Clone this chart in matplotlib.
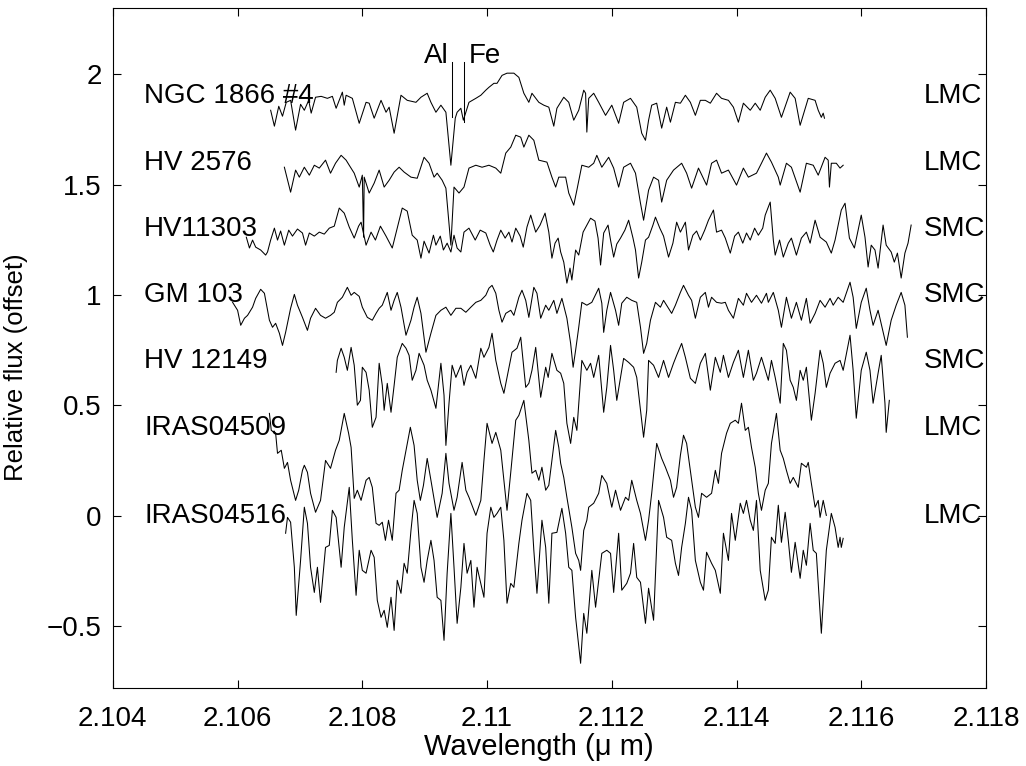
import matplotlib
matplotlib.use("Agg")
import matplotlib.pyplot as plt

plt.rcParams['font.family'] = ['Liberation Sans', 'DejaVu Sans']
plt.rcParams['font.size'] = 20

# star names, host galaxy and the flux level at which the labels sit
star_names = ["NGC 1866 #4", "HV 2576", "HV11303", "GM 103", "HV 12149", "IRAS04509", "IRAS04516"]
galaxies = ["LMC", "LMC", "SMC", "SMC", "SMC", "LMC", "LMC"]
label_flux = [1.9, 1.6, 1.3, 1.0, 0.7, 0.4, 0.0]

# line identifications (wavelength in micron)
line_names = ["Al", "Fe"]
line_wl = [2.10944, 2.10963]
line_bottom = [1.805, 1.783]

# spectra (wavelength in micron, offset relative flux)
ngc1866_wl = [2.10653, 2.10659, 2.10666, 2.10672, 2.10678, 2.10685, 2.10693, 2.10701, 2.10707, 2.10714,
              2.10718, 2.10725, 2.10734, 2.10744, 2.10752, 2.10758, 2.10768, 2.10771, 2.10774, 2.10784,
              2.10795, 2.10806, 2.10811, 2.10819, 2.10830, 2.10838, 2.10843, 2.10851, 2.10862, 2.10872,
              2.10886, 2.10894, 2.10904, 2.10910, 2.10918, 2.10926, 2.10934, 2.10942, 2.10949, 2.10952,
              2.10958, 2.10962, 2.10966, 2.10971, 2.10982, 2.10990, 2.10998, 2.11003, 2.11011, 2.11016,
              2.11024, 2.11032, 2.11043, 2.11051, 2.11059, 2.11067, 2.11072, 2.11083, 2.11091, 2.11099,
              2.11107, 2.11112, 2.11123, 2.11131, 2.11139, 2.11147, 2.11155, 2.11158, 2.11160, 2.11163,
              2.11171, 2.11179, 2.11190, 2.11200, 2.11211, 2.11219, 2.11230, 2.11240, 2.11248, 2.11254,
              2.11259, 2.11264, 2.11272, 2.11280, 2.11288, 2.11294, 2.11302, 2.11310, 2.11318, 2.11326,
              2.11334, 2.11342, 2.11350, 2.11358, 2.11368, 2.11376, 2.11387, 2.11395, 2.11403, 2.11411,
              2.11422, 2.11430, 2.11438, 2.11446, 2.11454, 2.11462, 2.11472, 2.11486, 2.11494, 2.11502,
              2.11515, 2.11526, 2.11531, 2.11536, 2.11539, 2.11541]
ngc1866_flux = [1.837, 1.765, 1.855, 1.810, 1.873, 1.882, 1.747, 1.864, 1.837, 1.882,
                1.824, 1.896, 1.900, 1.891, 1.900, 1.846, 1.919, 1.860, 1.905, 1.891,
                1.778, 1.873, 1.869, 1.801, 1.882, 1.828, 1.851, 1.733, 1.905, 1.882,
                1.873, 1.896, 1.914, 1.873, 1.828, 1.860, 1.828, 1.588, 1.801, 1.828,
                1.846, 1.792, 1.828, 1.873, 1.891, 1.905, 1.928, 1.941, 1.959, 1.959,
                1.995, 2.005, 2.005, 1.986, 1.914, 1.873, 1.914, 1.873, 1.860, 1.851,
                1.765, 1.846, 1.896, 1.873, 1.792, 1.837, 1.928, 1.914, 1.738, 1.891,
                1.914, 1.873, 1.814, 1.860, 1.778, 1.873, 1.891, 1.851, 1.733, 1.701,
                1.792, 1.860, 1.869, 1.756, 1.851, 1.783, 1.873, 1.869, 1.905, 1.873,
                1.814, 1.882, 1.882, 1.869, 1.914, 1.891, 1.882, 1.851, 1.783, 1.869,
                1.837, 1.869, 1.837, 1.896, 1.928, 1.891, 1.805, 1.919, 1.891, 1.769,
                1.891, 1.882, 1.837, 1.805, 1.824, 1.801]

hv2576_wl = [2.10675, 2.10685, 2.10693, 2.10699, 2.10707, 2.10715, 2.10723, 2.10731, 2.10741, 2.10749,
             2.10757, 2.10766, 2.10774, 2.10779, 2.10787, 2.10795, 2.10800, 2.10802, 2.10803, 2.10811,
             2.10819, 2.10827, 2.10835, 2.10843, 2.10851, 2.10859, 2.10867, 2.10878, 2.10888, 2.10899,
             2.10907, 2.10915, 2.10920, 2.10928, 2.10934, 2.10942, 2.10947, 2.10955, 2.10963, 2.10971,
             2.10982, 2.10992, 2.11003, 2.11014, 2.11022, 2.11030, 2.11038, 2.11046, 2.11054, 2.11059,
             2.11067, 2.11075, 2.11083, 2.11096, 2.11104, 2.11110, 2.11115, 2.11126, 2.11131, 2.11139,
             2.11144, 2.11152, 2.11163, 2.11171, 2.11176, 2.11184, 2.11195, 2.11203, 2.11211, 2.11219,
             2.11230, 2.11238, 2.11246, 2.11251, 2.11259, 2.11267, 2.11275, 2.11280, 2.11288, 2.11299,
             2.11312, 2.11320, 2.11328, 2.11339, 2.11352, 2.11360, 2.11368, 2.11376, 2.11387, 2.11400,
             2.11411, 2.11419, 2.11432, 2.11440, 2.11448, 2.11456, 2.11467, 2.11470, 2.11480, 2.11488,
             2.11502, 2.11512, 2.11523, 2.11531, 2.11542, 2.11547, 2.11549, 2.11552, 2.11560, 2.11566,
             2.11571]
hv2576_flux = [1.579, 1.466, 1.566, 1.534, 1.579, 1.543, 1.588, 1.575, 1.611, 1.552,
               1.597, 1.633, 1.611, 1.588, 1.552, 1.489, 1.543, 1.262, 1.534, 1.462,
               1.507, 1.566, 1.489, 1.520, 1.557, 1.579, 1.557, 1.534, 1.529, 1.624,
               1.597, 1.534, 1.552, 1.520, 1.484, 1.226, 1.489, 1.462, 1.489, 1.575,
               1.588, 1.579, 1.588, 1.575, 1.552, 1.643, 1.670, 1.724, 1.715, 1.670,
               1.724, 1.701, 1.611, 1.602, 1.534, 1.489, 1.534, 1.534, 1.462, 1.407,
               1.475, 1.588, 1.579, 1.597, 1.633, 1.579, 1.624, 1.575, 1.489, 1.579,
               1.597, 1.552, 1.416, 1.339, 1.475, 1.534, 1.520, 1.421, 1.520, 1.566,
               1.597, 1.552, 1.484, 1.575, 1.498, 1.597, 1.611, 1.552, 1.566, 1.498,
               1.575, 1.534, 1.552, 1.597, 1.643, 1.602, 1.534, 1.498, 1.597, 1.579,
               1.466, 1.597, 1.588, 1.543, 1.624, 1.611, 1.489, 1.597, 1.597, 1.575,
               1.588]

hv11303_wl = [2.10614, 2.10619, 2.10624, 2.10629, 2.10637, 2.10645, 2.10648, 2.10653, 2.10659, 2.10664,
              2.10669, 2.10675, 2.10682, 2.10688, 2.10696, 2.10704, 2.10709, 2.10715, 2.10723, 2.10731,
              2.10739, 2.10747, 2.10755, 2.10763, 2.10771, 2.10779, 2.10787, 2.10794, 2.10798, 2.10806,
              2.10814, 2.10821, 2.10829, 2.10838, 2.10848, 2.10856, 2.10864, 2.10872, 2.10880, 2.10888,
              2.10894, 2.10899, 2.10907, 2.10914, 2.10918, 2.10925, 2.10930, 2.10936, 2.10942, 2.10947,
              2.10952, 2.10958, 2.10963, 2.10971, 2.10981, 2.10989, 2.10998, 2.11005, 2.11010, 2.11016,
              2.11022, 2.11029, 2.11035, 2.11040, 2.11046, 2.11053, 2.11058, 2.11064, 2.11070, 2.11078,
              2.11085, 2.11093, 2.11099, 2.11104, 2.11109, 2.11114, 2.11118, 2.11123, 2.11128, 2.11133,
              2.11136, 2.11142, 2.11147, 2.11154, 2.11160, 2.11166, 2.11173, 2.11178, 2.11182, 2.11187,
              2.11194, 2.11198, 2.11203, 2.11208, 2.11214, 2.11221, 2.11227, 2.11234, 2.11238, 2.11243,
              2.11248, 2.11254, 2.11259, 2.11266, 2.11270, 2.11277, 2.11283, 2.11291, 2.11298, 2.11304,
              2.11310, 2.11318, 2.11323, 2.11330, 2.11336, 2.11342, 2.11349, 2.11355, 2.11363, 2.11368,
              2.11376, 2.11382, 2.11390, 2.11397, 2.11403, 2.11410, 2.11416, 2.11422, 2.11429, 2.11435,
              2.11442, 2.11446, 2.11454, 2.11459, 2.11462, 2.11469, 2.11475, 2.11483, 2.11488, 2.11496,
              2.11504, 2.11512, 2.11518, 2.11526, 2.11534, 2.11544, 2.11552, 2.11558, 2.11568, 2.11574,
              2.11581, 2.11589, 2.11595, 2.11600, 2.11606, 2.11611, 2.11616, 2.11622, 2.11627, 2.11635,
              2.11640, 2.11648, 2.11653, 2.11658, 2.11664, 2.11670, 2.11675, 2.11680]
hv11303_flux = [1.262, 1.213, 1.249, 1.217, 1.204, 1.181, 1.195, 1.249, 1.303, 1.249,
                1.290, 1.226, 1.294, 1.267, 1.299, 1.281, 1.226, 1.281, 1.267, 1.285,
                1.276, 1.303, 1.312, 1.394, 1.371, 1.308, 1.258, 1.312, 1.330, 1.226,
                1.285, 1.249, 1.312, 1.267, 1.213, 1.303, 1.394, 1.380, 1.271, 1.249,
                1.167, 1.244, 1.190, 1.271, 1.226, 1.267, 1.204, 1.235, 1.195, 1.271,
                1.213, 1.195, 1.285, 1.303, 1.249, 1.294, 1.281, 1.226, 1.195, 1.249,
                1.294, 1.258, 1.285, 1.240, 1.303, 1.267, 1.217, 1.308, 1.362, 1.285,
                1.317, 1.371, 1.285, 1.167, 1.235, 1.258, 1.195, 1.149, 1.054, 1.122,
                1.068, 1.204, 1.181, 1.285, 1.317, 1.348, 1.335, 1.258, 1.136, 1.281,
                1.317, 1.249, 1.172, 1.231, 1.258, 1.294, 1.339, 1.258, 1.204, 1.077,
                1.149, 1.249, 1.262, 1.317, 1.353, 1.303, 1.267, 1.172, 1.235, 1.330,
                1.285, 1.330, 1.204, 1.271, 1.290, 1.249, 1.294, 1.339, 1.385, 1.285,
                1.294, 1.258, 1.190, 1.267, 1.285, 1.235, 1.281, 1.249, 1.303, 1.271,
                1.303, 1.362, 1.421, 1.249, 1.181, 1.249, 1.172, 1.235, 1.258, 1.181,
                1.258, 1.285, 1.235, 1.339, 1.262, 1.240, 1.190, 1.249, 1.385, 1.416,
                1.258, 1.213, 1.294, 1.362, 1.262, 1.127, 1.226, 1.204, 1.122, 1.317,
                1.226, 1.195, 1.149, 1.190, 1.077, 1.190, 1.235, 1.317]

gm103_wl = [2.10592, 2.10600, 2.10605, 2.10611, 2.10616, 2.10624, 2.10629, 2.10637, 2.10643, 2.10651,
            2.10656, 2.10661, 2.10667, 2.10672, 2.10677, 2.10685, 2.10691, 2.10696, 2.10704, 2.10712,
            2.10717, 2.10725, 2.10733, 2.10741, 2.10749, 2.10755, 2.10760, 2.10768, 2.10776, 2.10782,
            2.10787, 2.10795, 2.10800, 2.10808, 2.10816, 2.10822, 2.10827, 2.10832, 2.10840, 2.10846,
            2.10851, 2.10856, 2.10862, 2.10870, 2.10878, 2.10883, 2.10888, 2.10894, 2.10902, 2.10910,
            2.10918, 2.10926, 2.10934, 2.10942, 2.10950, 2.10958, 2.10966, 2.10974, 2.10982, 2.10990,
            2.10998, 2.11003, 2.11008, 2.11014, 2.11019, 2.11024, 2.11030, 2.11038, 2.11043, 2.11051,
            2.11056, 2.11062, 2.11067, 2.11075, 2.11080, 2.11086, 2.11094, 2.11099, 2.11107, 2.11112,
            2.11120, 2.11128, 2.11134, 2.11138, 2.11142, 2.11147, 2.11152, 2.11160, 2.11168, 2.11179,
            2.11184, 2.11187, 2.11192, 2.11198, 2.11206, 2.11211, 2.11216, 2.11224, 2.11232, 2.11240,
            2.11246, 2.11251, 2.11256, 2.11262, 2.11270, 2.11278, 2.11283, 2.11291, 2.11296, 2.11302,
            2.11310, 2.11315, 2.11323, 2.11328, 2.11334, 2.11342, 2.11350, 2.11355, 2.11360, 2.11368,
            2.11376, 2.11382, 2.11387, 2.11395, 2.11403, 2.11411, 2.11416, 2.11424, 2.11432, 2.11440,
            2.11448, 2.11451, 2.11459, 2.11467, 2.11472, 2.11480, 2.11488, 2.11496, 2.11504, 2.11512,
            2.11518, 2.11526, 2.11534, 2.11542, 2.11550, 2.11555, 2.11563, 2.11571, 2.11582, 2.11587,
            2.11592, 2.11600, 2.11608, 2.11614, 2.11619, 2.11627, 2.11640, 2.11648, 2.11656, 2.11664,
            2.11670, 2.11674]
gm103_flux = [0.967, 0.931, 0.863, 0.895, 0.908, 0.945, 0.985, 1.026, 1.008, 0.886,
              0.854, 0.872, 0.827, 0.772, 0.831, 0.940, 1.003, 0.954, 0.899, 0.840,
              0.895, 0.940, 0.908, 0.895, 0.908, 0.922, 0.967, 0.990, 1.035, 0.999,
              1.012, 0.994, 0.945, 0.899, 0.886, 0.917, 0.940, 0.954, 1.012, 0.931,
              0.976, 1.012, 0.945, 0.818, 0.886, 0.945, 0.990, 0.917, 0.741, 0.827,
              0.908, 0.931, 0.945, 0.908, 0.940, 0.940, 0.922, 0.945, 0.967, 0.976,
              0.999, 1.031, 1.044, 1.008, 0.931, 0.877, 0.917, 0.931, 0.908, 0.990,
              1.022, 0.976, 0.899, 1.035, 1.008, 0.895, 0.954, 0.931, 0.976, 0.917,
              0.985, 0.895, 0.781, 0.673, 0.750, 0.854, 0.967, 0.954, 0.967, 1.031,
              0.963, 0.831, 0.931, 1.012, 0.931, 0.863, 0.963, 0.990, 0.976, 0.967,
              0.854, 0.736, 0.781, 0.886, 0.967, 0.945, 0.976, 0.940, 0.917, 0.954,
              1.012, 1.044, 0.999, 0.976, 0.895, 0.990, 1.012, 0.945, 0.990, 0.967,
              0.963, 0.967, 0.931, 0.895, 0.985, 0.954, 1.008, 0.967, 0.999, 0.963,
              1.008, 0.967, 1.012, 0.931, 0.854, 0.990, 0.895, 0.967, 0.886, 0.985,
              0.872, 0.917, 0.976, 0.945, 0.985, 0.954, 0.990, 0.967, 1.058, 0.990,
              0.849, 0.967, 1.031, 0.931, 0.863, 0.931, 0.772, 0.886, 0.954, 1.012,
              0.954, 0.809]

hv12149_wl = [2.10758, 2.10760, 2.10766, 2.10771, 2.10776, 2.10782, 2.10787, 2.10792, 2.10797, 2.10800,
              2.10806, 2.10811, 2.10816, 2.10822, 2.10827, 2.10832, 2.10835, 2.10840, 2.10846, 2.10851,
              2.10856, 2.10864, 2.10870, 2.10875, 2.10880, 2.10886, 2.10891, 2.10899, 2.10904, 2.10910,
              2.10918, 2.10926, 2.10931, 2.10934, 2.10939, 2.10944, 2.10950, 2.10958, 2.10963, 2.10968,
              2.10974, 2.10982, 2.10990, 2.10995, 2.11003, 2.11008, 2.11014, 2.11022, 2.11027, 2.11032,
              2.11040, 2.11048, 2.11054, 2.11062, 2.11067, 2.11072, 2.11078, 2.11086, 2.11094, 2.11098,
              2.11104, 2.11112, 2.11118, 2.11123, 2.11128, 2.11134, 2.11139, 2.11144, 2.11152, 2.11160,
              2.11166, 2.11171, 2.11179, 2.11187, 2.11192, 2.11198, 2.11203, 2.11208, 2.11214, 2.11219,
              2.11227, 2.11235, 2.11240, 2.11251, 2.11256, 2.11259, 2.11267, 2.11275, 2.11283, 2.11291,
              2.11299, 2.11304, 2.11312, 2.11318, 2.11326, 2.11334, 2.11342, 2.11350, 2.11358, 2.11366,
              2.11374, 2.11379, 2.11387, 2.11395, 2.11403, 2.11411, 2.11419, 2.11427, 2.11432, 2.11440,
              2.11451, 2.11456, 2.11462, 2.11470, 2.11475, 2.11480, 2.11486, 2.11491, 2.11496, 2.11502,
              2.11507, 2.11512, 2.11520, 2.11526, 2.11534, 2.11539, 2.11544, 2.11550, 2.11558, 2.11566,
              2.11571, 2.11582, 2.11587, 2.11592, 2.11600, 2.11608, 2.11614, 2.11619, 2.11627, 2.11632,
              2.11638, 2.11640, 2.11645]
hv12149_flux = [0.650, 0.704, 0.759, 0.718, 0.659, 0.763, 0.682, 0.501, 0.523, 0.673,
                0.650, 0.569, 0.401, 0.446, 0.691, 0.591, 0.478, 0.600, 0.469, 0.591,
                0.718, 0.781, 0.759, 0.727, 0.614, 0.659, 0.736, 0.682, 0.614, 0.569,
                0.487, 0.691, 0.546, 0.319, 0.510, 0.682, 0.627, 0.682, 0.591, 0.650,
                0.682, 0.623, 0.759, 0.718, 0.763, 0.827, 0.704, 0.600, 0.555, 0.627,
                0.741, 0.759, 0.809, 0.582, 0.600, 0.659, 0.763, 0.537, 0.673, 0.627,
                0.736, 0.659, 0.646, 0.600, 0.419, 0.328, 0.446, 0.387, 0.704, 0.659,
                0.691, 0.627, 0.727, 0.469, 0.582, 0.772, 0.659, 0.523, 0.627, 0.713,
                0.695, 0.673, 0.627, 0.356, 0.478, 0.704, 0.682, 0.627, 0.704, 0.627,
                0.691, 0.727, 0.781, 0.718, 0.623, 0.600, 0.691, 0.736, 0.569, 0.718,
                0.650, 0.727, 0.627, 0.695, 0.750, 0.627, 0.750, 0.614, 0.646, 0.718,
                0.614, 0.704, 0.627, 0.510, 0.781, 0.750, 0.614, 0.582, 0.523, 0.659,
                0.614, 0.673, 0.433, 0.555, 0.750, 0.691, 0.582, 0.646, 0.691, 0.704,
                0.659, 0.818, 0.659, 0.442, 0.659, 0.741, 0.659, 0.510, 0.646, 0.727,
                0.510, 0.378, 0.523]

iras04509_wl = [2.10651, 2.10654, 2.10661, 2.10664, 2.10670, 2.10675, 2.10680, 2.10685, 2.10693, 2.10698,
                2.10704, 2.10707, 2.10712, 2.10717, 2.10725, 2.10733, 2.10741, 2.10749, 2.10757, 2.10763,
                2.10771, 2.10778, 2.10782, 2.10787, 2.10792, 2.10798, 2.10806, 2.10811, 2.10816, 2.10822,
                2.10827, 2.10832, 2.10837, 2.10842, 2.10848, 2.10854, 2.10859, 2.10864, 2.10870, 2.10877,
                2.10883, 2.10888, 2.10893, 2.10898, 2.10904, 2.10910, 2.10920, 2.10928, 2.10934, 2.10939,
                2.10947, 2.10952, 2.10960, 2.10966, 2.10971, 2.10982, 2.10990, 2.10995, 2.11000, 2.11008,
                2.11014, 2.11022, 2.11027, 2.11032, 2.11038, 2.11046, 2.11051, 2.11059, 2.11067, 2.11072,
                2.11078, 2.11083, 2.11088, 2.11094, 2.11099, 2.11104, 2.11110, 2.11115, 2.11118, 2.11123,
                2.11128, 2.11136, 2.11142, 2.11147, 2.11150, 2.11155, 2.11160, 2.11163, 2.11171, 2.11179,
                2.11184, 2.11192, 2.11200, 2.11206, 2.11214, 2.11222, 2.11227, 2.11232, 2.11240, 2.11246,
                2.11254, 2.11259, 2.11264, 2.11272, 2.11280, 2.11286, 2.11294, 2.11299, 2.11304, 2.11310,
                2.11315, 2.11320, 2.11328, 2.11334, 2.11339, 2.11344, 2.11352, 2.11360, 2.11366, 2.11371,
                2.11376, 2.11384, 2.11390, 2.11398, 2.11403, 2.11408, 2.11414, 2.11419, 2.11424, 2.11430,
                2.11435, 2.11440, 2.11446, 2.11451, 2.11456, 2.11464, 2.11470, 2.11475, 2.11480, 2.11486,
                2.11491, 2.11499, 2.11504, 2.11512, 2.11515, 2.11520, 2.11526, 2.11531, 2.11534, 2.11539,
                2.11544]
iras04509_flux = [0.464, 0.387, 0.374, 0.283, 0.297, 0.215, 0.242, 0.161, 0.070, 0.116,
                  0.206, 0.229, 0.197, 0.102, 0.016, 0.070, 0.251, 0.215, 0.297, 0.342,
                  0.464, 0.374, 0.310, 0.079, 0.116, 0.070, 0.161, 0.174, 0.129, -0.034,
                  -0.043, -0.029, -0.111, -0.020, -0.111, 0.102, 0.116, 0.206, 0.297, 0.401,
                  0.319, 0.161, 0.070, 0.138, 0.260, 0.161, -0.007, 0.102, 0.283, 0.147,
                  0.025, 0.084, 0.242, 0.116, 0.084, 0.002, 0.070, 0.251, 0.419, 0.328,
                  0.378, 0.297, 0.161, 0.025, 0.197, 0.433, 0.455, 0.523, 0.342, 0.193,
                  0.206, 0.161, 0.220, 0.116, 0.138, 0.251, 0.387, 0.310, 0.238, 0.174,
                  0.084, -0.052, -0.170, -0.202, -0.247, -0.066, -0.020, 0.039, 0.057, 0.102,
                  0.183, 0.147, 0.039, 0.116, 0.025, 0.084, 0.070, 0.161, 0.070, 0.011,
                  -0.111, -0.020, 0.102, 0.328, 0.260, 0.220, 0.161, 0.084, 0.129, 0.274,
                  0.365, 0.328, 0.161, 0.039, -0.007, 0.102, 0.084, 0.102, 0.206, 0.147,
                  0.283, 0.374, 0.419, 0.433, 0.419, 0.510, 0.387, 0.401, 0.310, 0.220,
                  0.102, 0.025, 0.116, 0.147, 0.328, 0.464, 0.297, 0.260, 0.206, 0.147,
                  0.174, 0.129, 0.238, 0.220, 0.242, 0.147, 0.039, 0.070, -0.007, 0.070,
                  0.002]

iras04516_wl = [2.10677, 2.10680, 2.10685, 2.10691, 2.10694, 2.10701, 2.10707, 2.10712, 2.10717, 2.10723,
                2.10728, 2.10733, 2.10741, 2.10747, 2.10752, 2.10758, 2.10766, 2.10771, 2.10779, 2.10784,
                2.10790, 2.10795, 2.10800, 2.10806, 2.10814, 2.10819, 2.10824, 2.10830, 2.10835, 2.10840,
                2.10846, 2.10851, 2.10856, 2.10862, 2.10867, 2.10872, 2.10878, 2.10883, 2.10888, 2.10894,
                2.10899, 2.10904, 2.10910, 2.10915, 2.10920, 2.10926, 2.10931, 2.10936, 2.10942, 2.10947,
                2.10952, 2.10958, 2.10963, 2.10968, 2.10974, 2.10979, 2.10984, 2.10990, 2.10995, 2.11000,
                2.11006, 2.11011, 2.11016, 2.11022, 2.11027, 2.11032, 2.11038, 2.11043, 2.11051, 2.11056,
                2.11064, 2.11070, 2.11075, 2.11080, 2.11088, 2.11094, 2.11099, 2.11104, 2.11112, 2.11120,
                2.11126, 2.11131, 2.11136, 2.11142, 2.11150, 2.11155, 2.11160, 2.11168, 2.11174, 2.11184,
                2.11192, 2.11198, 2.11203, 2.11211, 2.11216, 2.11224, 2.11230, 2.11235, 2.11240, 2.11246,
                2.11254, 2.11259, 2.11267, 2.11275, 2.11283, 2.11288, 2.11296, 2.11302, 2.11307, 2.11312,
                2.11318, 2.11323, 2.11328, 2.11334, 2.11342, 2.11347, 2.11352, 2.11360, 2.11366, 2.11374,
                2.11379, 2.11387, 2.11392, 2.11398, 2.11406, 2.11411, 2.11416, 2.11422, 2.11427, 2.11432,
                2.11438, 2.11446, 2.11451, 2.11456, 2.11462, 2.11467, 2.11472, 2.11478, 2.11483, 2.11488,
                2.11494, 2.11502, 2.11507, 2.11512, 2.11518, 2.11523, 2.11528, 2.11536, 2.11544, 2.11552,
                2.11558, 2.11563, 2.11566, 2.11568, 2.11571]
iras04516_flux = [-0.079, -0.007, -0.029, -0.233, -0.451, -0.202, 0.039, -0.034, -0.233, -0.347,
                  -0.233, -0.392, -0.143, -0.134, 0.025, -0.007, -0.233, -0.052, 0.129, -0.111,
                  -0.360, -0.156, -0.247, -0.260, -0.156, -0.188, -0.383, -0.460, -0.428, -0.505,
                  -0.369, -0.519, -0.292, -0.351, -0.215, -0.260, -0.066, 0.070, 0.011, -0.233,
                  -0.301, -0.202, -0.111, -0.202, -0.369, -0.383, -0.564, -0.260, 0.011, -0.233,
                  -0.487, -0.324, -0.125, -0.260, -0.202, -0.414, -0.233, -0.306, -0.369, -0.079,
                  0.039, -0.007, 0.011, 0.039, -0.111, -0.396, -0.306, -0.324, -0.125, -0.020,
                  0.102, 0.070, -0.156, -0.351, -0.020, -0.143, -0.396, -0.079, -0.075, 0.034,
                  -0.079, -0.233, -0.247, -0.460, -0.668, -0.442, -0.532, -0.247, -0.414, -0.170,
                  -0.156, -0.170, -0.347, -0.079, -0.337, -0.306, -0.260, -0.125, -0.279, -0.301,
                  -0.487, -0.328, -0.473, 0.070, -0.007, -0.097, -0.111, -0.215, -0.270, -0.143,
                  -0.034, 0.084, 0.025, -0.202, -0.301, -0.337, -0.165, -0.215, -0.247, -0.351,
                  -0.079, -0.202, 0.011, -0.111, 0.057, 0.011, 0.070, -0.020, -0.066, 0.070,
                  -0.247, -0.383, -0.337, -0.097, -0.125, 0.048, -0.120, 0.016, -0.111, -0.256,
                  -0.120, -0.283, -0.156, -0.224, -0.034, -0.156, -0.170, -0.532, -0.156, 0.011,
                  -0.052, -0.143, -0.097, -0.143, -0.102]

spectra = [
    (ngc1866_wl, ngc1866_flux),
    (hv2576_wl, hv2576_flux),
    (hv11303_wl, hv11303_flux),
    (gm103_wl, gm103_flux),
    (hv12149_wl, hv12149_flux),
    (iras04509_wl, iras04509_flux),
    (iras04516_wl, iras04516_flux),
]

fig = plt.figure(figsize=(10.26, 7.66), dpi=100)
ax = fig.add_axes([0.110, 0.1018, 0.851, 0.8877])

for wl, flux in spectra:
    ax.plot(wl, flux, color='black', lw=0.75)

# line markers for Al and Fe
for name, x, bottom in zip(line_names, line_wl, line_bottom):
    ax.plot([x, x], [2.054, bottom], color='black', lw=0.75)
ax.text(line_wl[0] - 0.00006, 2.052, line_names[0], ha='right', va='baseline')
ax.text(line_wl[1] + 0.00007, 2.052, line_names[1], ha='left', va='baseline')

for name, gal, y in zip(star_names, galaxies, label_flux):
    ax.text(2.1045, y, name, ha='left', va='center')
    ax.text(2.117, y, gal, ha='left', va='center')

ax.set_xlim(2.104, 2.118)
ax.set_ylim(-0.78, 2.3)
ax.set_xticks([2.104, 2.106, 2.108, 2.11, 2.112, 2.114, 2.116, 2.118])
ax.set_xticklabels(['2.104', '2.106', '2.108', '2.11', '2.112', '2.114', '2.116', '2.118'])
ax.set_yticks([-0.5, 0, 0.5, 1, 1.5, 2])
ax.set_yticklabels(['\u22120.5', '0', '0.5', '1', '1.5', '2'])
ax.tick_params(direction='in', length=6, width=0.8, top=True, right=True, pad=8)
ax.tick_params(axis='x', pad=13)
for sp in ax.spines.values():
    sp.set_linewidth(0.8)

ax.set_xlabel('Wavelength (\u03bc m)', fontsize=21)
ax.xaxis.set_label_coords(0.488, -0.066)
ax.set_ylabel('Relative flux (offset)', fontsize=18.5)
ax.yaxis.set_label_coords(-0.097, 0.472)

fig.savefig('out.png', dpi=100)
